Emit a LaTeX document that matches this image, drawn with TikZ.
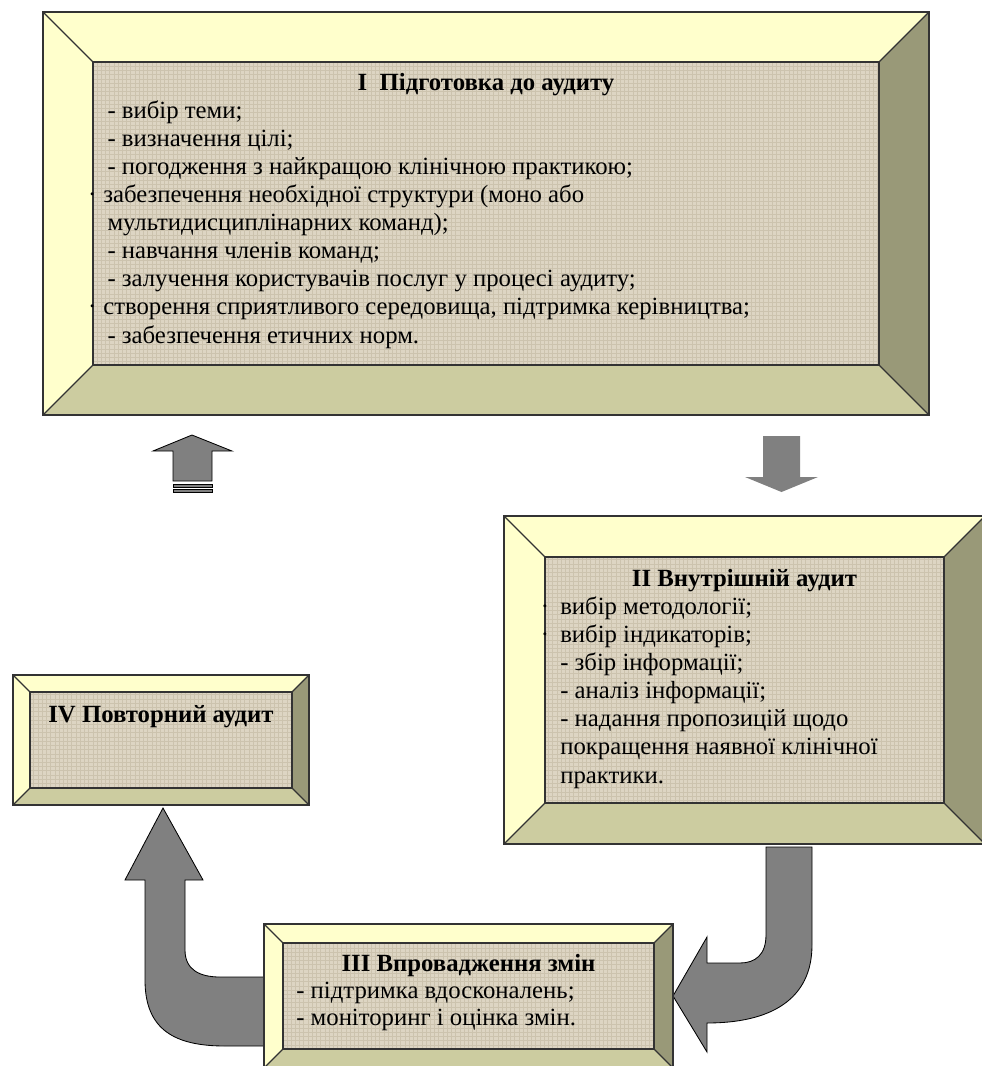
\documentclass[tikz,border=0pt]{standalone}
\usepackage{fontspec}
\setmainfont{Liberation Serif}
\usepackage{tikz}
\usetikzlibrary{calc,fit,patterns,positioning}

\definecolor{litebevel}{HTML}{FFFFCC}
\definecolor{midbevel}{HTML}{CCCCA0}
\definecolor{darkbevel}{HTML}{999978}
\definecolor{canvas}{HTML}{DDD5C3}
\definecolor{weave}{HTML}{CCC3AE}
\definecolor{arrowgray}{HTML}{808080}

\newcommand{\bevel}[2]{%
	\fill [litebevel] (#1.north west) -- ++(-#2,-#2) -- ($(#1.north east)+(#2,-#2)$) -- (#1.north east) -- cycle;
	\fill [litebevel] (#1.north west) -- ++(-#2,-#2) -- ($(#1.south west)+(-#2,#2)$) -- (#1.south west) -- cycle;
	\fill [darkbevel] (#1.north east) -- ++(#2,-#2) -- ($(#1.south east)+(#2,#2)$) -- (#1.south east) -- cycle;
	\fill [midbevel] (#1.south west) -- ++(-#2,#2) -- ($(#1.south east)+(#2,#2)$) -- (#1.south east) -- cycle;
	\draw [edge] ($(#1.north west)+(-#2,-#2)$) rectangle ($(#1.south east)+(#2,#2)$);
	\draw [edge] (#1.north west) rectangle (#1.south east);
	\draw [edge] (#1.north west) -- ++(-#2,-#2) (#1.north east) -- ++(#2,-#2)
		(#1.south west) -- ++(-#2,#2) (#1.south east) -- ++(#2,#2);
}

\begin{document}
\begin{tikzpicture}[x=0.025cm, y=-0.025cm,
	panel/.style={inner sep=0pt, outer sep=0pt, preaction={fill=canvas}, pattern=grid, pattern color=weave},
	edge/.style={draw=black!80, line width=0.8pt},
	txt/.style={inner sep=0pt, font=\fontsize{17.6}{20}\selectfont},
	ttl/.style={inner sep=0pt, font=\fontsize{17.6}{20}\selectfont\bfseries},
	lst/.style={txt, align=left},
	blockarrow/.style={fill=arrowgray, draw=black, line width=0.6pt, line join=miter}]
	%\draw [help lines] (0,0) grid (981,1066);
	\useasboundingbox (0,0) rectangle (981,1066);

	% panels
	\node [panel, fit={(93,62) (879,365)}] (prep) {};
	\node [panel, fit={(545,557) (944,803)}] (inaudit) {};
	\node [panel, fit={(283,943) (654,1049)}] (changes) {};
	\node [panel, fit={(30,692) (292,788)}] (reaudit) {};

	% arrows
	\draw [blockarrow] (192,435) -- (232,451) -- (212,451) -- (212,481) -- (173,481) -- (173,451) -- (153,451) -- cycle;
	\draw [blockarrow] (173,484) rectangle (212,487);
	\draw [blockarrow] (173,489) rectangle (212,492);
	\fill [arrowgray] (763,436) -- (800,436) -- (800,477) -- (818,477) -- (781.5,492) -- (745,477) -- (763,477) -- cycle;

	\coordinate (tipIV) at ($(reaudit.south)+(2,20)$);
	\draw [blockarrow] (tipIV) -- (203,880) -- (185,880) -- (185,950) .. controls (185,970) and (200,977) .. (220,977)
		-- (272,977) -- (272,1046) -- (225,1046) .. controls (175,1046) and (145,1030) .. (145,980)
		-- (145,880) -- (125,880) -- cycle;

	\coordinate (tipIII) at ($(changes.east)+(19,0)$);
	\draw [blockarrow] (tipIII) -- (707,937) -- (707,963) -- (740,963) .. controls (755,963) and (766,955) .. (766,935)
		-- (766,847) -- (812,847) -- (812,945) .. controls (812,1000) and (770,1023) .. (707,1023)
		-- (707,1052) -- cycle;

	% frames
	\bevel{prep}{50}
	\bevel{inaudit}{41}
	\bevel{changes}{19}
	\bevel{reaudit}{17}

	% texts
	\node [ttl, anchor=base] (prepTitle) at ($(prep.north)+(0,28)$) {I\ \ Підготовка до аудиту};
	\node [lst, anchor=base west] (prepList) at ($(prep.north west)+(10,281)$) {%
		\hspace*{3pt}- вибір теми;\\
		\hspace*{3pt}- визначення цілі;\\
		\hspace*{3pt}- погодження з найкращою клінічною практикою;\\
		\llap{·\hspace{5pt}}забезпечення необхідної структури (моно або\\
		\hspace*{3pt}мультидисциплінарних команд);\\
		\hspace*{3pt}- навчання членів команд;\\
		\hspace*{3pt}- залучення користувачів послуг у процесі аудиту;\\
		\llap{·\hspace{5pt}}створення сприятливого середовища, підтримка керівництва;\\
		\hspace*{3pt}- забезпечення етичних норм.};

	\node [ttl, anchor=base] (inauditTitle) at ($(inaudit.north)+(0,29)$) {II Внутрішній аудит};
	\node [lst, anchor=base west] (inauditList) at ($(inaudit.north west)+(15,226)$) {%
		\llap{·\hspace{8pt}}вибір методології;\\
		\llap{·\hspace{8pt}}вибір індикаторів;\\
		- збір інформації;\\
		- аналіз інформації;\\
		- надання пропозицій щодо\\
		покращення наявної клінічної\\
		практики.};

	\node [ttl, anchor=base] (changesTitle) at ($(changes.north)+(0,28)$) {III Впровадження змін};
	\node [lst, anchor=base west, font=\fontsize{17.6}{19.2}\selectfont] (changesList) at ($(changes.north west)+(13,82)$) {%
		- підтримка вдосконалень;\\
		- моніторинг і оцінка змін.};

	\node [ttl, anchor=base] (reauditTitle) at ($(reaudit.north)+(0,30)$) {IV Повторний аудит};
\end{tikzpicture}
\end{document}
